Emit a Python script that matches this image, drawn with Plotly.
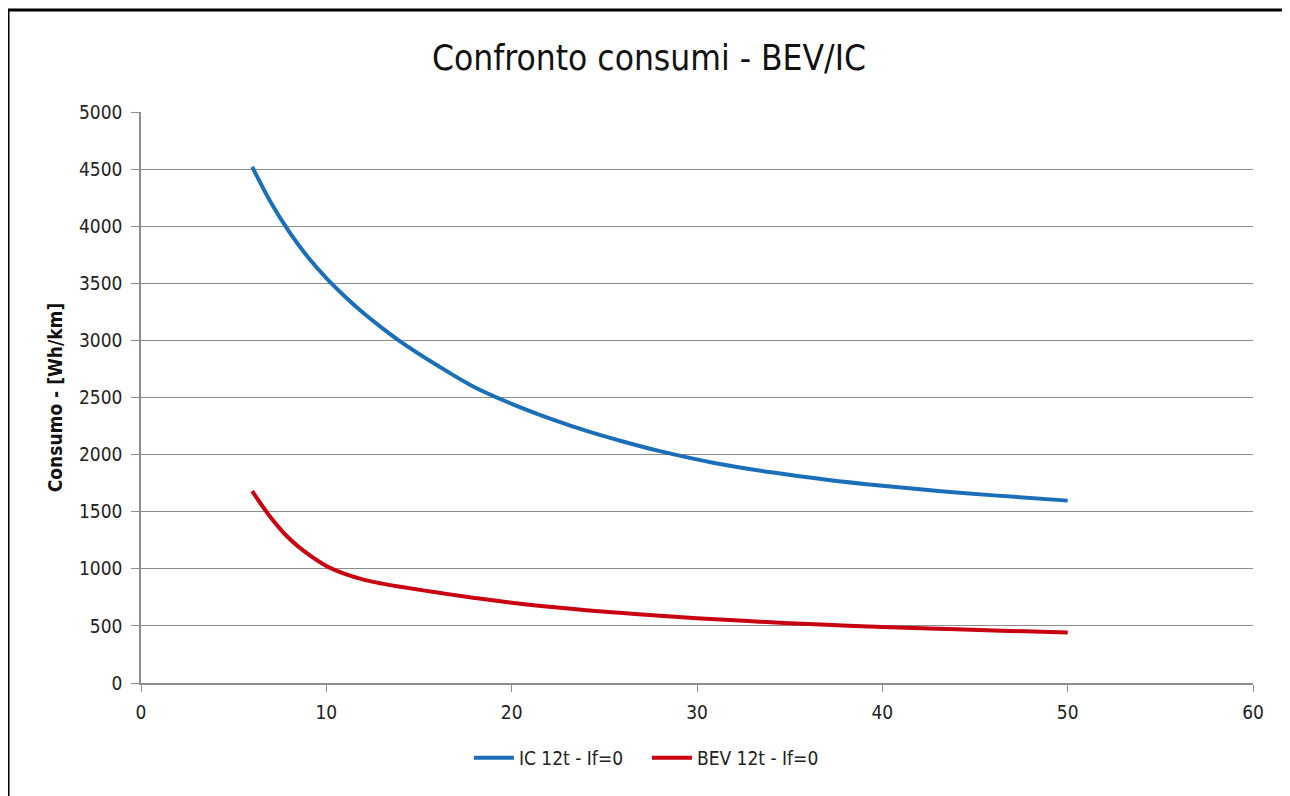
import plotly.graph_objects as go

# Data
speed = [6, 7, 8, 9, 10, 11, 12, 13, 14, 16, 18, 20, 22, 24, 26, 28, 31, 34, 37, 40, 43, 46, 50]
ic_12t = [4520, 4210, 3950, 3730, 3545, 3385, 3240, 3110, 2990, 2780, 2590, 2445, 2320, 2210,
          2115, 2030, 1925, 1845, 1780, 1727, 1682, 1643, 1597]
bev_12t = [1680, 1450, 1265, 1130, 1025, 955, 905, 870, 842, 792, 745, 703, 667, 638,
           612, 588, 558, 532, 510, 491, 475, 460, 442]

series_names = ["IC 12t - If=0", "BEV 12t - If=0"]
colors = ["#1a6fb8", "#c8000f"]

FONT = "DejaVu Sans Condensed, Liberation Sans, sans-serif"

fig = go.Figure()
for name, ys, col in zip(series_names, [ic_12t, bev_12t], colors):
    fig.add_trace(go.Scatter(x=speed, y=ys, mode="lines", name=name,
                             line=dict(color=col, width=4, shape="spline", smoothing=1.0)))

fig.update_layout(
    width=1282, height=788,
    margin=dict(l=133, r=37, t=104, b=113),
    paper_bgcolor="white", plot_bgcolor="white",
    title=dict(text="Confronto consumi - BEV/IC", x=0.5, xanchor="center",
               y=0.9365, yanchor="middle",
               font=dict(family=FONT, size=35, color="#111")),
    font=dict(family=FONT, size=19, color="#222"),
    showlegend=True,
    legend=dict(orientation="h", x=0.455, xanchor="center", y=-0.098, yanchor="top",
                font=dict(family=FONT, size=19, color="#222"),
                itemwidth=40, entrywidth=123, entrywidthmode="pixels"),
    xaxis=dict(range=[0, 60], dtick=10, tick0=0, showgrid=False, zeroline=False,
               showline=True, linecolor="#8c8c8c", linewidth=1.5,
               ticks="outside", ticklen=7, tickcolor="#8c8c8c", ticklabelstandoff=4,
               tickfont=dict(family=FONT, size=19, color="#222")),
    yaxis=dict(range=[0, 5000], dtick=500, tick0=0, showgrid=True, gridcolor="#8c8c8c",
               gridwidth=1, zeroline=False, showline=True, linecolor="#8c8c8c", linewidth=1.5,
               ticks="outside", ticklen=8, tickcolor="#8c8c8c", ticklabelstandoff=5,
               tickfont=dict(family=FONT, size=19, color="#222"),
               title=dict(text="<b>Consumo - [Wh/km]</b>", standoff=11,
                          font=dict(family=FONT, size=19, color="#111"))),
)

# Outer black frame of the chart
fig.add_shape(type="rect", xref="paper", yref="paper",
              x0=-0.1196, x1=1.0288, y0=-0.21, y1=1.1786,
              line=dict(color="black", width=3), fillcolor="rgba(0,0,0,0)", layer="below")

fig.write_html("out.html")
